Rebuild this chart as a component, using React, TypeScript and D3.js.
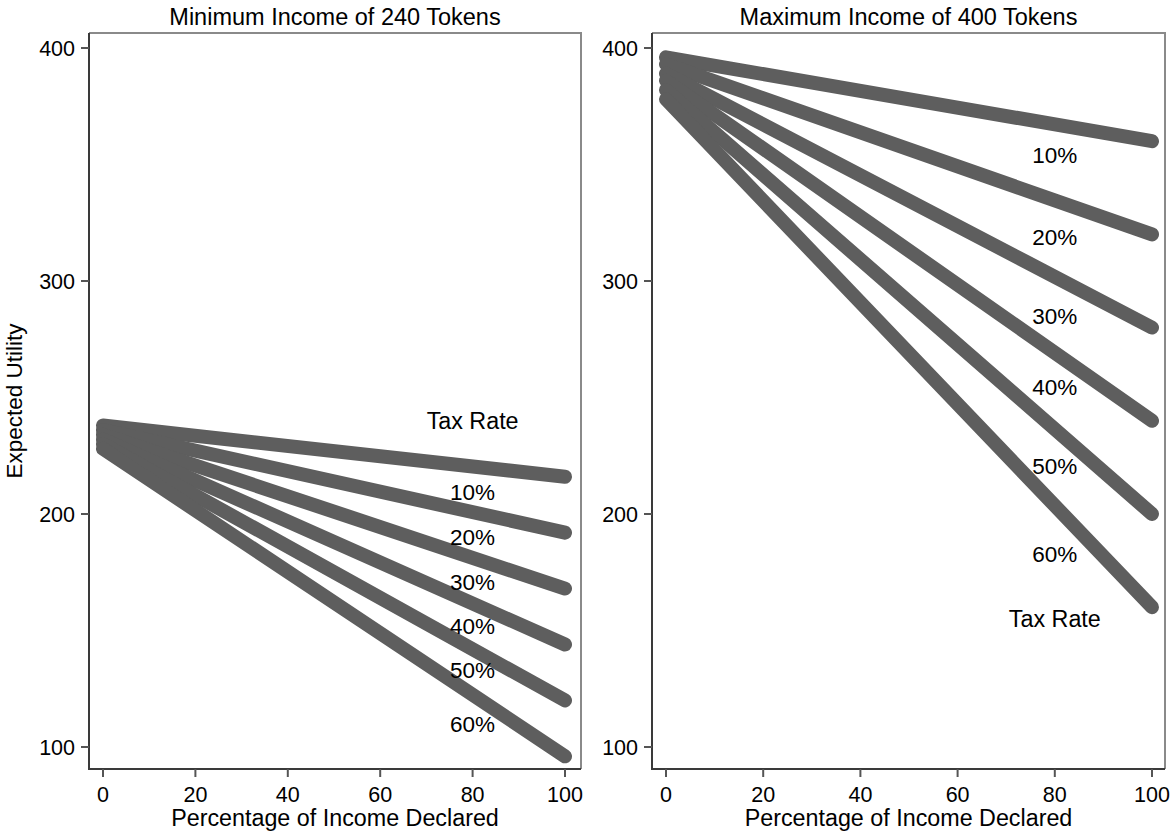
import React from "react";
import * as d3 from "d3";

const declared = [0, 100];
const xTicks = [0, 20, 40, 60, 80, 100];
const yTicks = [100, 200, 300, 400];
const taxRates = ["10%", "20%", "30%", "40%", "50%", "60%"];

const minStart = [238, 236, 234, 232, 230, 228];
const minEnd = [216, 192, 168, 144, 120, 96];
const maxStart = [396, 393, 389, 386, 382, 378];
const maxEnd = [360, 320, 280, 240, 200, 160];

const labelX = 80;
const minLabelY = [209.5, 190, 171, 152, 133, 110];
const minHeaderY = 240;
const maxLabelY = [354, 319, 285, 254.5, 220.5, 183];
const maxHeaderY = 155;

const titles = ["Minimum Income of 240 Tokens", "Maximum Income of 400 Tokens"];

const FONT = "'Liberation Sans', Arial, Helvetica, sans-serif";
const LINE = "#5e5e5e";

type PanelProps = {
  id: string;
  title: string;
  starts: number[];
  ends: number[];
  labelY: number[];
  headerY: number;
  xr: [number, number];
  box: [number, number];
  clip: [number, number];
  yTitle?: string;
};

function Panel(p: PanelProps) {
  const x = d3.scaleLinear().domain([0, 100]).range(p.xr);
  const y = d3.scaleLinear().domain([100, 400]).range([747, 48]);
  const top = 33;
  const bottom = 769;
  const line = d3
    .line<[number, number]>()
    .x((d) => x(d[0]))
    .y((d) => y(d[1]));
  const cx = (p.box[0] + p.box[1]) / 2;
  return (
    <g>
      <defs>
        <clipPath id={p.id}>
          <rect x={p.clip[0]} y={0} width={p.clip[1] - p.clip[0]} height={831} />
        </clipPath>
      </defs>
      <g clipPath={`url(#${p.id})`}>
        <text x={cx} y={25} textAnchor="middle" fontSize={23.5} fontFamily={FONT} fill="#000">
          {p.title}
        </text>
        <path
          d={`M${p.box[0]},${top}H${p.box[1]}V${bottom}`}
          fill="none"
          stroke="#8a8a8a"
          strokeWidth={2}
        />
        <path
          d={`M${p.box[0]},${top}V${bottom}H${p.box[1]}`}
          fill="none"
          stroke="#3a3a3a"
          strokeWidth={2}
        />
        {yTicks.map((t) => (
          <g key={"y" + t}>
            <line x1={p.box[0] - 8} x2={p.box[0]} y1={y(t)} y2={y(t)} stroke="#555" strokeWidth={2} />
            <text
              x={p.box[0] - 14}
              y={y(t)}
              dy="0.36em"
              textAnchor="end"
              fontSize={21.5}
              fontFamily={FONT}
              fill="#000"
            >
              {t}
            </text>
          </g>
        ))}
        {xTicks.map((t) => (
          <g key={"x" + t}>
            <line x1={x(t)} x2={x(t)} y1={bottom} y2={bottom + 8} stroke="#555" strokeWidth={2} />
            <text x={x(t)} y={802} textAnchor="middle" fontSize={21.5} fontFamily={FONT} fill="#000">
              {t}
            </text>
          </g>
        ))}
        <text x={cx} y={826} textAnchor="middle" fontSize={23.3} fontFamily={FONT} fill="#000">
          Percentage of Income Declared
        </text>
        {p.yTitle && (
          <text
            transform={`translate(22,${(top + bottom) / 2}) rotate(-90)`}
            textAnchor="middle"
            fontSize={22.5}
            fontFamily={FONT}
            fill="#000"
          >
            {p.yTitle}
          </text>
        )}
        {p.starts.map((s, i) => (
          <path
            key={"l" + i}
            d={line(declared.map((d, j) => [d, j === 0 ? s : p.ends[i]] as [number, number])) || ""}
            fill="none"
            stroke={LINE}
            strokeWidth={14}
            strokeLinecap="round"
          />
        ))}
        {taxRates.map((r, i) => (
          <text
            key={"t" + i}
            x={x(labelX)}
            y={y(p.labelY[i])}
            dy="0.36em"
            textAnchor="middle"
            fontSize={22.5}
            fontFamily={FONT}
            fill="#000"
          >
            {r}
          </text>
        ))}
        <text
          x={x(labelX)}
          y={y(p.headerY)}
          dy="0.36em"
          textAnchor="middle"
          fontSize={23.3}
          fontFamily={FONT}
          fill="#000"
        >
          Tax Rate
        </text>
      </g>
    </g>
  );
}

export default function App() {
  return (
    <svg
      width={1172}
      height={831}
      style={{ position: "absolute", left: 0, top: 0, background: "#fff" }}
    >
      <rect width={1172} height={831} fill="#fff" />
      <Panel
        id="clipL"
        title={titles[0]}
        starts={minStart}
        ends={minEnd}
        labelY={minLabelY}
        headerY={minHeaderY}
        xr={[103, 565]}
        box={[89, 581]}
        clip={[0, 583]}
        yTitle="Expected Utility"
      />
      <Panel
        id="clipR"
        title={titles[1]}
        starts={maxStart}
        ends={maxEnd}
        labelY={maxLabelY}
        headerY={maxHeaderY}
        xr={[666, 1152]}
        box={[652, 1165]}
        clip={[590, 1172]}
      />
    </svg>
  );
}
